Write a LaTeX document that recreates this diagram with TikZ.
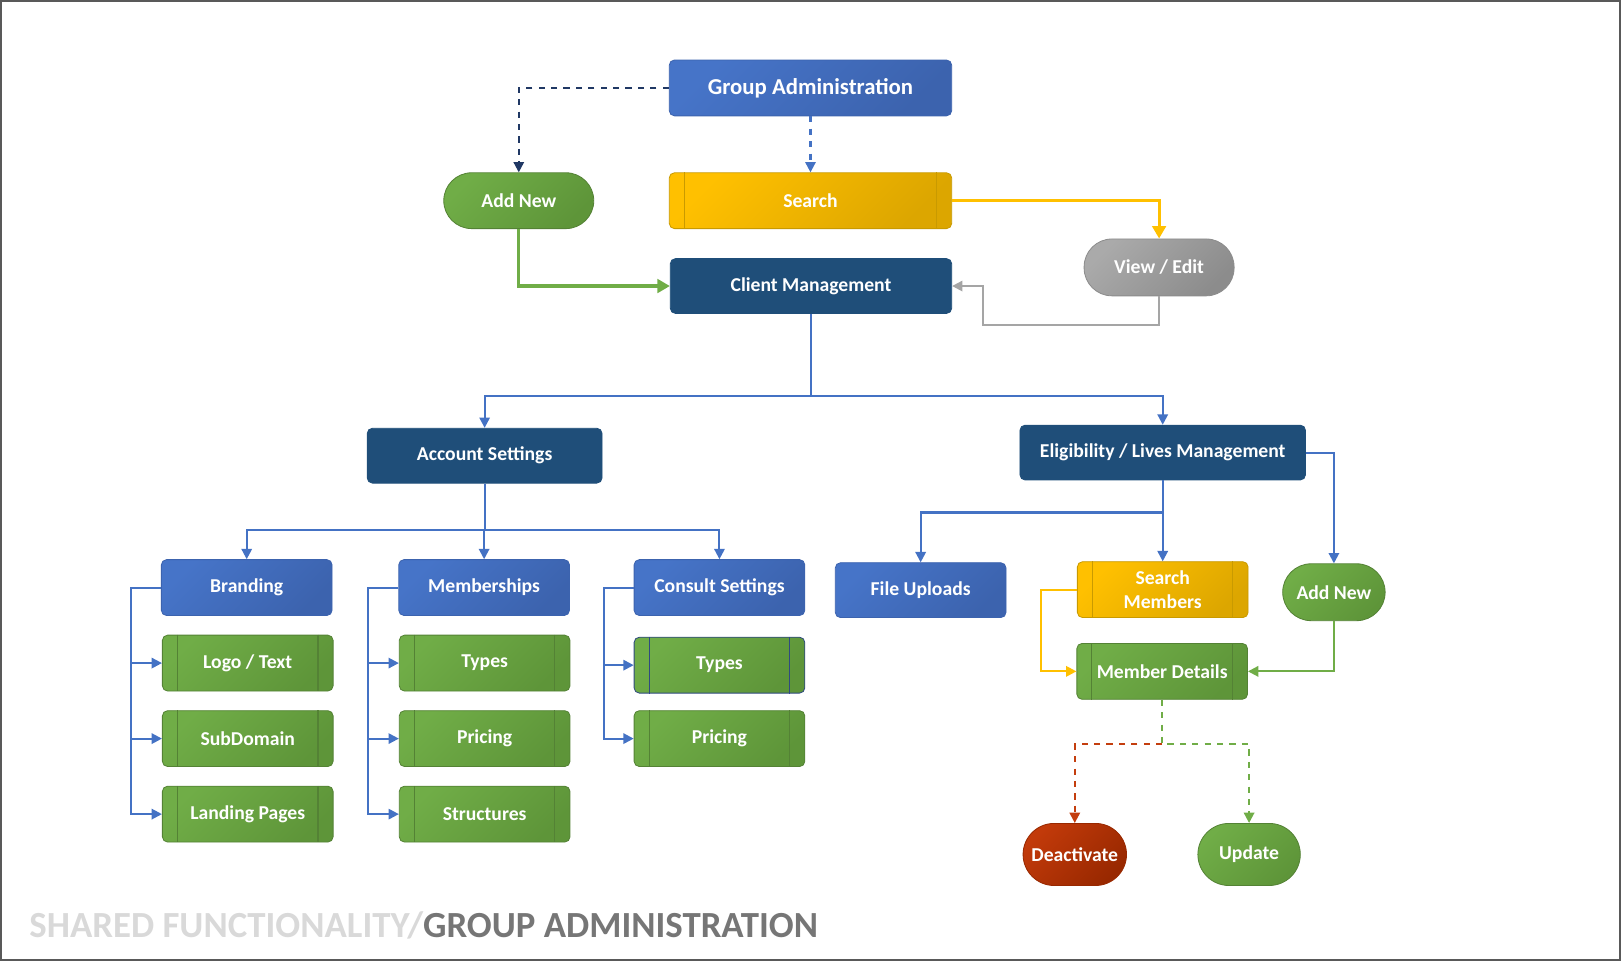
\documentclass[tikz,border=0pt]{standalone}
\usepackage{fontspec}
\setmainfont{Carlito}
\usetikzlibrary{arrows.meta}
\definecolor{blA}{HTML}{4674C8}
\definecolor{blB}{HTML}{3C63AE}
\definecolor{bl}{HTML}{4472C4}
\definecolor{navy}{HTML}{1F4E79}
\definecolor{dnavy}{HTML}{203864}
\definecolor{grA}{HTML}{70AD47}
\definecolor{grB}{HTML}{5E9539}
\definecolor{grL}{HTML}{548235}
\definecolor{goA}{HTML}{FFC000}
\definecolor{goB}{HTML}{DCA600}
\definecolor{goL}{HTML}{C99A00}
\definecolor{gyA}{HTML}{AAAAAA}
\definecolor{gyB}{HTML}{8C8C8C}
\definecolor{gy}{HTML}{A5A5A5}
\definecolor{rdA}{HTML}{C23A0A}
\definecolor{rdB}{HTML}{982800}
\definecolor{rd}{HTML}{C43E0E}
\definecolor{ctL}{HTML}{2F4A80}
\definecolor{ftA}{HTML}{D9D9D9}
\definecolor{ftB}{HTML}{767676}
\definecolor{frame}{HTML}{595959}
\begin{document}
\begin{tikzpicture}[x=0.5pt,y=-0.5pt,
    box/.style={rectangle,rounded corners=2.5pt,minimum width=82.5pt,minimum height=27pt,inner sep=1pt,
      align=center,text=white,line width=0.4pt,font=\bfseries\fontsize{9.5}{11.5}\selectfont},
    pill/.style={box,rounded corners=13.5pt},
    bluebox/.style={draw=blB,top color=blA,bottom color=blB,shading angle=45},
    navybox/.style={draw=navy,fill=navy},
    greenbox/.style={draw=grL,top color=grA,bottom color=grB,shading angle=45},
    goldbox/.style={draw=goL,top color=goA,bottom color=goB,shading angle=45},
    greybox/.style={draw=gyB,top color=gyA,bottom color=gyB,shading angle=45},
    redbox/.style={draw=rdB,top color=rdA,bottom color=rdB,shading angle=45},
    link/.style={draw=bl,line width=1pt,-{Triangle[width=5pt,length=5pt]}},
    thick link/.style={line width=1.5pt,-{Triangle[width=6.5pt,length=6pt]}},
  ]
  \useasboundingbox (0,0) rectangle (1568,933);
  \draw[frame,line width=1pt] (1,1) rectangle (1566,928);

  \node[box,bluebox,minimum width=136.5pt,font=\bfseries\fontsize{11}{13}\selectfont] (GA) at (783.5,85) {Group Administration};
  \node[pill,greenbox,minimum width=72.5pt] (AN) at (501.5,194) {Add New};
  \node[box,goldbox,minimum width=136.5pt] (SE) at (783.5,194) {Search};
  \node[pill,greybox,minimum width=72.5pt,minimum height=27.5pt] (VE) at (1120.5,258.5) {View / Edit};
  \node[box,navybox,minimum width=136pt,minimum height=26.5pt] (CM) at (784,276.5) {Client Management};
  \node[box,navybox,minimum width=113.5pt,minimum height=26.5pt] (AS) at (468.5,440.5) {Account Settings};
  \node[box,navybox,minimum width=138pt,minimum height=26.5pt] (EL) at (1124,437.5) {Eligibility / Lives Management};

  \node[box,bluebox] (BR) at (238.5,568) {Branding};
  \node[box,bluebox] (ME) at (468,568) {Memberships};
  \node[box,bluebox] (CS) at (695.5,568) {Consult Settings};
  \node[box,bluebox,minimum height=26.5pt] (FU) at (890,570.5) {File Uploads};
  \node[box,goldbox] (SM) at (1124,570) {Search\\Members};
  \node[pill,greenbox,minimum width=49.5pt,minimum height=27.5pt,rounded corners=13.75pt] (AD) at (1289.5,572.5) {Add New};
  \node[box,greenbox] (MD) at (1123.5,649) {Member Details};
  \node[pill,redbox,minimum width=50pt,minimum height=30pt,rounded corners=15pt] (DE) at (1039,826) {Deactivate};
  \node[pill,greenbox,minimum width=49.5pt,minimum height=30pt,rounded corners=15pt] (UP) at (1207.5,826) {Update};

  \node[box,greenbox] (LT) at (239.5,641) {Logo / Text};
  \node[box,greenbox] (SD) at (239.5,714) {SubDomain};
  \node[box,greenbox] (LP) at (239.5,787) {Landing Pages};
  \node[box,greenbox] (MT) at (468.5,641) {Types};
  \node[box,greenbox] (MP) at (468.5,714) {Pricing};
  \node[box,greenbox] (MS) at (468.5,787) {Structures};
  \node[box,greenbox,draw=ctL] (CT) at (695.5,643) {Types};
  \node[box,greenbox] (CP) at (695.5,714) {Pricing};

  \foreach \n/\c in {SE/goL,SM/goL,MD/grL,LT/grL,SD/grL,LP/grL,MT/grL,MP/grL,MS/grL,CT/ctL,CP/grL}
    \draw[\c,line width=0.5pt] ([xshift=7.5pt]\n.north west) -- ([xshift=7.5pt]\n.south west)
      ([xshift=-7.5pt]\n.north east) -- ([xshift=-7.5pt]\n.south east);

  \draw[link,draw=dnavy,dashed] (GA.west) -| (AN.north);
  \draw[link,dashed] (GA.south) -- (SE.north);
  \draw[link,thick link,draw=goA] (SE.east) -| (VE.north);
  \draw[link,thick link,draw=grA] (AN.south) |- (CM.west);
  \draw[link,draw=gy] (VE.south) -- ++(0,28) -| ([xshift=15pt]CM.east) -- (CM.east);

  \draw[link] (CM.south) -- ++(0,79) -| (AS.north);
  \draw[link] (CM.south) -- ++(0,79) -| (EL.north);
  \foreach \n in {BR,ME,CS}
    \draw[link] (AS.south) -- ++(0,45) -| (\n.north);
  \foreach \n in {LT,SD,LP}
    \draw[link] (BR.west) -- ++(-29,0) |- (\n.west);
  \foreach \n in {MT,MP,MS}
    \draw[link] (ME.west) -- ++(-29,0) |- (\n.west);
  \foreach \n in {CT,CP}
    \draw[link] (CS.west) -- ++(-29,0) |- (\n.west);

  \draw[link] (EL.south) -- ++(0,31) -| (FU.north);
  \draw[link] (EL.south) -- (SM.north);
  \draw[link] (EL.east) -| (AD.north);
  \draw[link,draw=goA] (SM.west) -- ++(-35,0) |- (MD.west);
  \draw[link,draw=grA] (AD.south) |- (MD.east);
  \draw[link,draw=grA,dashed] (MD.south) -- ++(0,43) -| (UP.north);
  \draw[link,draw=rd,dashed] (MD.south) ++(0,43) -| (DE.north);

  \node[anchor=base west,inner sep=0pt,font=\bfseries\fontsize{17.8}{20}\selectfont] (FT) at (28,906)
    {\color{ftA}SHARED FUNCTIONALITY/\color{ftB}GROUP ADMINISTRATION};
\end{tikzpicture}
\end{document}
